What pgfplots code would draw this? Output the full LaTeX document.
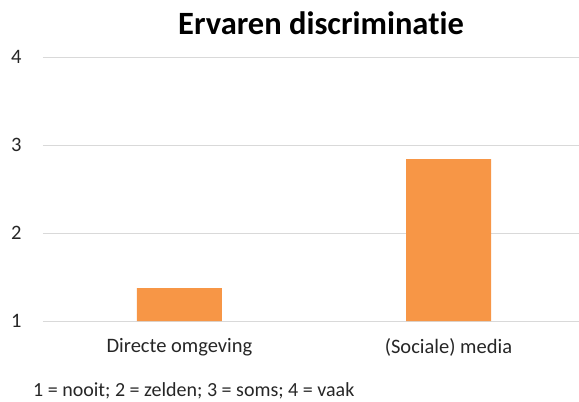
\documentclass[border=0pt]{standalone}
\usepackage{pgfplots}
\pgfplotsset{compat=1.18}
\usepackage{fontspec}
\setmainfont[Ligatures=CommonOff]{Carlito}
\definecolor{barorange}{HTML}{F79646}
\definecolor{gridgray}{HTML}{D9D9D9}
\definecolor{txt}{HTML}{262626}
\begin{document}
\begin{tikzpicture}[x=1pt,y=1pt]
\useasboundingbox (-43,-81) rectangle (536,321);
\begin{axis}[
  at={(0,0)}, anchor=south west,
  scale only axis, width=536pt, height=264pt,
  ymin=1, ymax=4, ytick={1,2,3,4},
  xmin=-0.507, xmax=1.485,
  xtick=data, xticklabels={Directe omgeving,(Sociale) media},
  axis line style={draw=none},
  ymajorgrids, grid style={gridgray, line width=0.9pt},
  major tick length=0pt,
  ybar, bar width=85pt,
  clip=true,
  /pgf/number format/assume math mode=true,
  ticklabel style={font=\fontsize{20.5}{24}\selectfont, text=txt},
  yticklabel style={xshift=-18pt},
  xticklabel style={yshift=-14pt},
]
\addplot[fill=barorange, draw=none] coordinates {(0,1.375) (1,2.84)};
\end{axis}
\node[anchor=center, font=\bfseries\fontsize{32.5}{38}\selectfont, text=black] at (278,298) {Ervaren discriminatie};
\node[anchor=west, inner sep=0pt, font=\fontsize{20}{24}\selectfont, text=txt] at (-10,-70) {1 = nooit; 2 = zelden; 3 = soms; 4 = vaak};
\end{tikzpicture}
\end{document}
